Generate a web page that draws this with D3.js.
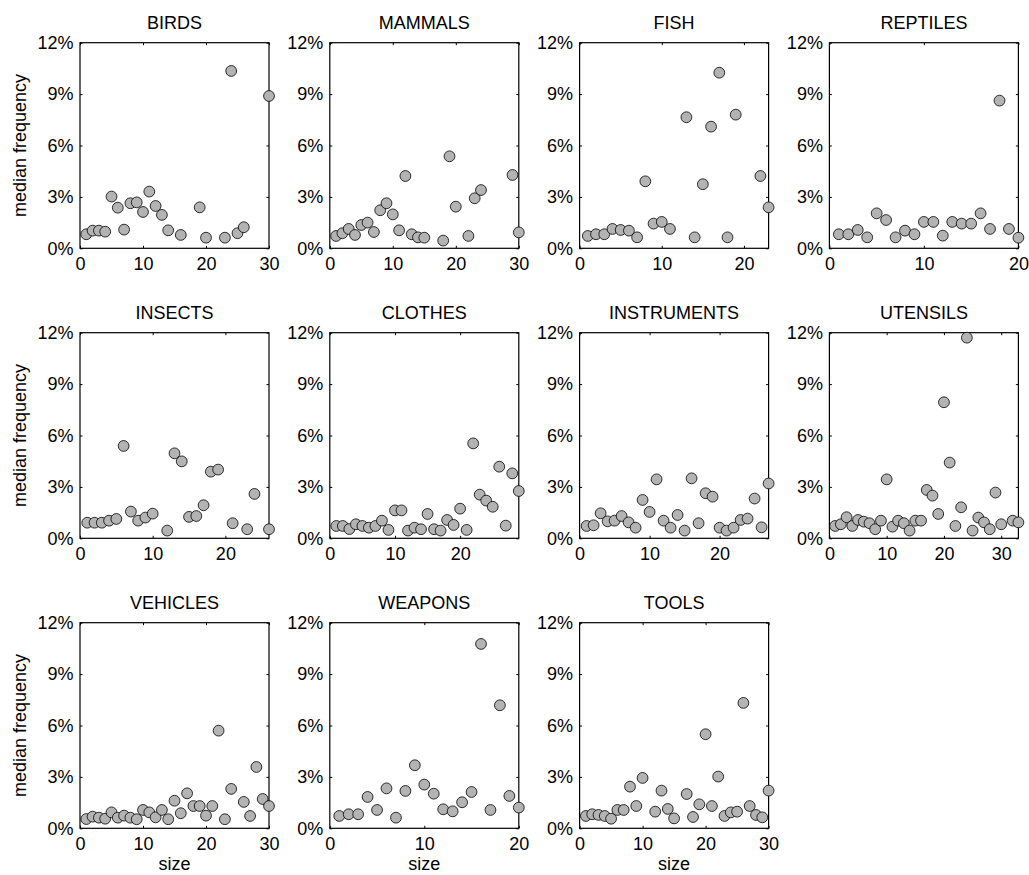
<!DOCTYPE html>
<html>
<head>
<meta charset="utf-8">
<script src="https://cdn.jsdelivr.net/npm/d3@7"></script>
<style>
  body { margin: 0; background: #fff; }
  svg { display: block; }
  text { font-family: "Liberation Sans", Arial, Helvetica, sans-serif; fill: #000; }
</style>
</head>
<body>
<svg width="1029" height="875"></svg>
<script>
// panel titles and the largest size on each x axis
const titles = ["BIRDS", "MAMMALS", "FISH", "REPTILES", "INSECTS", "CLOTHES",
                "INSTRUMENTS", "UTENSILS", "VEHICLES", "WEAPONS", "TOOLS"];
const xMax = [30, 30, 23, 20, 26, 29, 27, 33, 30, 20, 30];
const yTicks = [0, 3, 6, 9, 12];

// median frequency (%) for size = 1, 2, 3 ... (null = no point)
const birds = [0.82, 1.03, 1.03, 0.97, 3.02, 2.37, 1.09, 2.63, 2.68, 2.12, 3.31, 2.47, 1.95, 1.05, null,
               0.78, null, null, 2.39, 0.62, null, null, 0.62, 10.35, 0.88, 1.23, null, null, null, 8.89];
const mammals = [0.72, 0.88, 1.13, 0.78, 1.36, 1.50, 0.95, 2.22, 2.63, 1.98, 1.05, 4.22, 0.82, 0.64, 0.62,
                 null, null, 0.45, 5.37, 2.43, null, 0.72, 2.92, 3.40, null, null, null, null, 4.28, 0.93];
const fish = [0.72, 0.82, 0.82, 1.13, 1.07, 1.03, 0.64, 3.91, 1.44, 1.54, 1.13, null, 7.65, 0.64, 3.74,
              7.10, 10.25, 0.64, 7.80, null, null, 4.22, 2.39];
const reptiles = [0.82, 0.82, 1.07, 0.64, 2.04, 1.65, 0.64, 1.03, 0.82, 1.54, 1.54, 0.74, 1.54, 1.44, 1.44,
                  2.04, 1.13, 8.62, 1.13, 0.62];
const insects = [0.91, 0.91, 0.91, 1.03, 1.13, 5.39, 1.56, 1.03, 1.21, 1.44, null, 0.45, 4.96, 4.49, 1.25,
                 1.30, 1.93, 3.89, 4.01, null, 0.88, null, 0.53, 2.59, null, 0.53];
const clothes = [0.72, 0.72, 0.54, 0.82, 0.72, 0.62, 0.72, 1.03, 0.49, 1.63, 1.63, 0.45, 0.62, 0.53, 1.42,
                 0.53, 0.45, 1.07, 0.78, 1.73, 0.49, 5.54, 2.55, 2.20, 1.84, 4.18, 0.74, 3.79, 2.76];
const instruments = [0.72, 0.76, 1.46, 0.99, 1.03, 1.30, 0.93, 0.62, 2.24, 1.54, 3.44, 1.03, 0.62, 1.36, 0.45,
                     3.50, 0.88, 2.63, 2.43, 0.62, 0.45, 0.62, 1.07, 1.15, 2.32, 0.64, 3.20];
const utensils = [0.72, 0.82, 1.23, 0.72, 1.07, 0.97, 0.88, 0.53, 1.03, 3.44, 0.68, 1.03, 0.88, 0.45, 1.03,
                  1.03, 2.82, 2.49, 1.42, 7.94, 4.42, 0.72, 1.81, 11.71, 0.45, 1.21, 0.93, 0.53, 2.67, 0.82,
                  null, 1.03, 0.93];
const vehicles = [0.54, 0.68, 0.62, 0.56, 0.93, 0.62, 0.74, 0.62, 0.53, 1.07, 0.93, 0.64, 1.07, 0.53, 1.61,
                  0.88, 2.04, 1.30, 1.30, 0.74, 1.30, 5.70, 0.53, 2.30, null, 1.54, 0.72, 3.58, 1.71, 1.30];
const weapons = [0.72, 0.82, 0.82, 1.83, 1.07, 2.33, 0.62, 2.18, 3.68, 2.55, 2.02, 1.11, 0.99, 1.52, 2.12,
                 10.76, 1.07, 7.18, 1.89, 1.21];
const tools = [0.72, 0.82, 0.78, 0.72, 0.56, 1.07, 1.07, 2.43, 1.30, 2.94, null, 0.97, 2.20, 1.13, 0.58,
               null, 2.00, 0.66, 1.40, 5.49, 1.30, 3.02, 0.72, 0.93, 0.97, 7.32, 1.30, 0.78, 0.64, 2.20];

const panels = [birds, mammals, fish, reptiles, insects, clothes, instruments, utensils, vehicles, weapons, tools];

const svg = d3.select("svg");
const panelW = 189, panelH = 205.6;
const left0 = 80, top0 = 42.7, colStep = 249.8, rowStep = 290;
const fontSize = 18;

panels.forEach((vals, i) => {
    const col = i % 4, row = Math.floor(i / 4);
    const g = svg.append("g")
        .attr("transform", `translate(${left0 + col * colStep},${top0 + row * rowStep})`);

    const x = d3.scaleLinear().domain([0, xMax[i]]).range([0, panelW]);
    const y = d3.scaleLinear().domain([0, 12]).range([panelH, 0]);
    const xTicks = d3.range(0, xMax[i] + 1, 10);

    // axes, ticks point inward like matlab
    const bottom = g.append("g")
        .attr("transform", `translate(0,${panelH})`)
        .call(d3.axisBottom(x).tickValues(xTicks).tickSize(-2.5).tickSizeOuter(0).tickPadding(9));
    const leftAx = g.append("g")
        .call(d3.axisLeft(y).tickValues(yTicks).tickFormat(d => d + "%").tickSize(-2.5).tickSizeOuter(0).tickPadding(6.5));
    g.append("g")
        .call(d3.axisTop(x).tickValues(xTicks).tickFormat("").tickSize(-2.5).tickSizeOuter(0));
    g.append("g")
        .attr("transform", `translate(${panelW},0)`)
        .call(d3.axisRight(y).tickValues(yTicks).tickFormat("").tickSize(-2.5).tickSizeOuter(0));

    g.selectAll(".domain").remove();
    g.selectAll(".tick line").attr("stroke", "#000").attr("stroke-width", 1);
    [bottom, leftAx].forEach(a => a.attr("font-size", fontSize).attr("font-family", null));

    g.append("rect")
        .attr("width", panelW)
        .attr("height", panelH)
        .attr("fill", "none")
        .attr("stroke", "#000")
        .attr("stroke-width", 1.2);

    // title
    g.append("text")
        .attr("x", panelW / 2)
        .attr("y", -14.2)
        .attr("text-anchor", "middle")
        .attr("font-size", fontSize)
        .text(titles[i]);

    if (col === 0) {
        g.append("text")
            .attr("transform", `translate(-54,${panelH / 2}) rotate(-90)`)
            .attr("text-anchor", "middle")
            .attr("font-size", fontSize)
            .text("median frequency");
    }
    if (row === 2) {
        g.append("text")
            .attr("x", panelW / 2)
            .attr("y", panelH + 41.5)
            .attr("text-anchor", "middle")
            .attr("font-size", fontSize)
            .text("size");
    }

    const pts = vals.map((v, k) => ({size: k + 1, value: v})).filter(d => d.value !== null);
    g.selectAll("circle")
        .data(pts)
        .enter().append("circle")
        .attr("cx", d => x(d.size))
        .attr("cy", d => y(d.value))
        .attr("r", 5.4)
        .attr("fill", "#b3b3b3")
        .attr("stroke", "#000")
        .attr("stroke-width", 0.8);
});
</script>
</body>
</html>
